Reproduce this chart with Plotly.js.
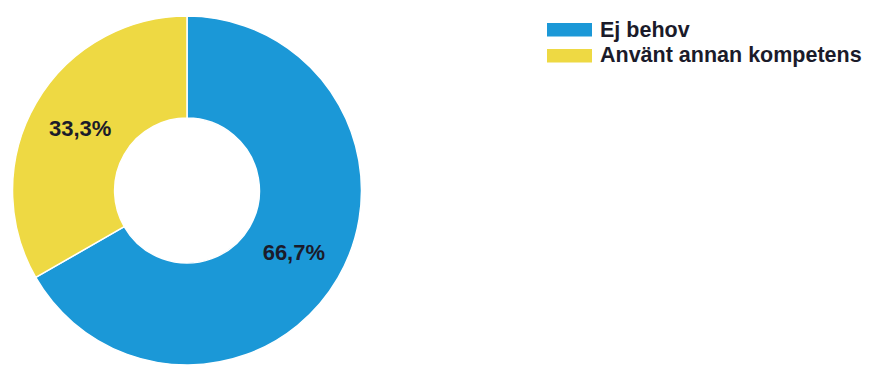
<!DOCTYPE html>
<html>
<head>
<meta charset="utf-8">
<script src="https://cdn.plot.ly/plotly-3.0.1.min.js"></script>
<style>
html,body{margin:0;padding:0;background:#fff;}
#chart{width:872px;height:365px;}
</style>
</head>
<body>
<div id="chart"></div>
<script>
const labels = ['Ej behov', 'Använt annan kompetens'];
const values = [66.7, 33.3];
const colors = ['#1B98D7', '#EED943'];

const trace = {
  type: 'pie',
  labels: labels,
  values: values,
  hole: 0.415,
  sort: false,
  direction: 'clockwise',
  rotation: 0,
  marker: {colors: colors, line: {color: '#ffffff', width: 1.5}},
  texttemplate: '%{percent:.1%}',
  textposition: 'inside',
  insidetextorientation: 'horizontal',
  textfont: {family: 'Liberation Sans, Arial, sans-serif', size: 22, color: '#1b1b2a', weight: 'bold'},
  domain: {x: [12/872, 362/872], y: [0, 0.956]},
  showlegend: false,
  hoverinfo: 'none'
};

// Legend drawn from labels/colors
const shapes = [];
const annotations = [];
const legTop = [23, 49];
labels.forEach((lab, i) => {
  const y0 = legTop[i];
  shapes.push({
    type: 'rect', xref: 'paper', yref: 'paper',
    x0: 547/872, x1: 592/872,
    y0: 1 - (y0 + 13.5)/365, y1: 1 - y0/365,
    fillcolor: colors[i], line: {width: 0}
  });
  annotations.push({
    xref: 'paper', yref: 'paper',
    x: 598/872, y: 1 - (y0 + 6.5)/365,
    xanchor: 'left', yanchor: 'middle',
    text: lab, showarrow: false,
    font: {family: 'Liberation Sans, Arial, sans-serif', size: 21.5, color: '#1b1b2a', weight: 'bold'}
  });
});

const layout = {
  width: 872, height: 365,
  margin: {l: 0, r: 0, t: 0, b: 0},
  paper_bgcolor: '#ffffff',
  separators: ', ',
  showlegend: false,
  shapes: shapes,
  annotations: annotations
};

Plotly.newPlot('chart', [trace], layout, {displayModeBar: false, staticPlot: true});
</script>
</body>
</html>
